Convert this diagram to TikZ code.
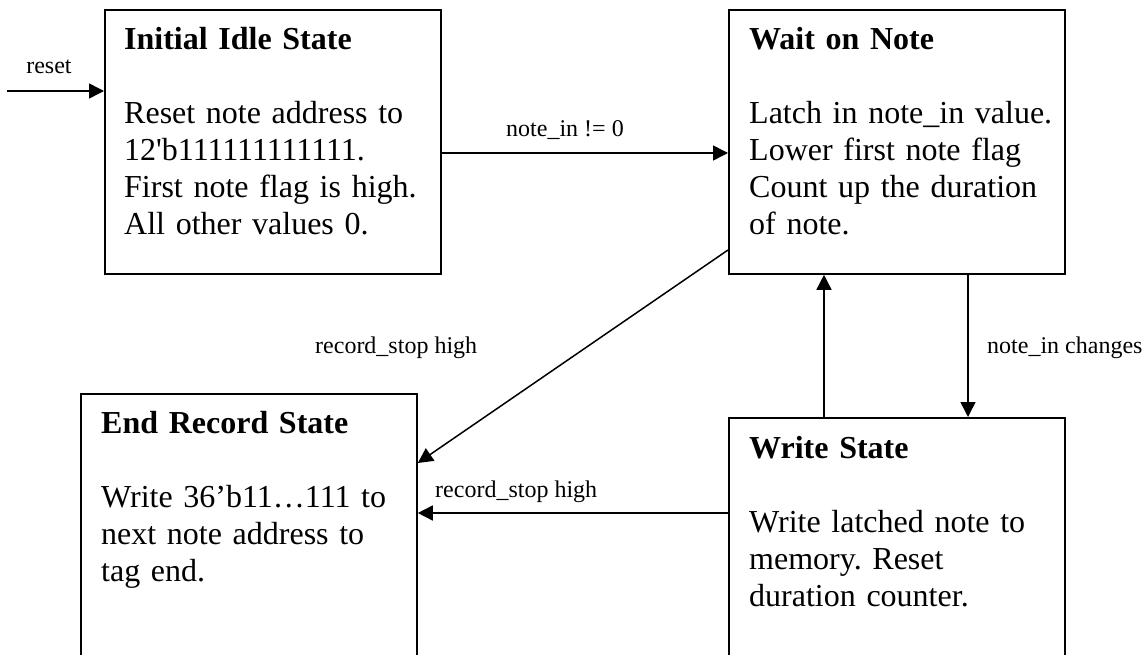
\documentclass[tikz,border=0pt]{standalone}
\usepackage{fontspec}
\setmainfont{Liberation Serif}[Ligatures=TeXOff]
\usetikzlibrary{arrows.meta,calc}

\newcommand\stbody{\fontsize{32}{37}\selectfont\frenchspacing}
\newcommand\stlabel{\fontsize{24}{28}\selectfont\frenchspacing}

\tikzset{
  statebox/.style={draw, line width=1.8pt, rectangle, inner sep=0pt,
    minimum width=336pt, anchor=north west},
  statetext/.style={font=\stbody, inner sep=0pt, align=left,
    text width=330pt, anchor=base west},
  flow/.style={line width=1.5pt, -{Triangle[length=15pt,width=15pt]}},
  cond/.style={font=\stlabel, inner sep=0pt}
}

\begin{document}
\begin{tikzpicture}[x=1pt, y=-1pt]
  \clip (0,0) rectangle (1146,655);
  \fill[white] (0,0) rectangle (1146,655);

  % state boxes (the lower two run past the bottom edge)
  \node[statebox, minimum height=264pt] (idle)   at (104,9)   {};
  \node[statebox, minimum height=264pt] (wait)   at (728,9)   {};
  \node[statebox, minimum height=320pt] (endrec) at (80,393)  {};
  \node[statebox, minimum height=300pt] (write)  at (728,417) {};

  % state descriptions
  \node[statetext] (idleTxt) at ($(idle.north west)+(20,41)$)
    {\textbf{Initial Idle State}\\[37pt]
     Reset note address to\\
     12'b111111111111.\\
     First note flag is high.\\
     All other values 0.};
  \node[statetext] (waitTxt) at ($(wait.north west)+(21,41)$)
    {\textbf{Wait on Note}\\[37pt]
     Latch in note\_in value.\\
     Lower first note flag\\
     Count up the duration\\
     of note.};
  \node[statetext] (endTxt) at ($(endrec.north west)+(21,40)$)
    {\textbf{End Record State}\\[37pt]
     Write 36’b11…111 to\\
     next note address to\\
     tag end.};
  \node[statetext] (writeTxt) at ($(write.north west)+(21,41)$)
    {\textbf{Write State}\\[37pt]
     Write latched note to\\
     memory. Reset\\
     duration counter.};

  % reset entry
  \coordinate (rst) at (7,91);
  \draw[flow] (rst) -- (rst -| idle.west);
  \node[cond] (rstLbl) at (49,67) {reset};

  % idle -> wait
  \draw[flow] ($(idle.north east)+(0,144)$) -- ($(wait.north west)+(0,144)$);
  \node[cond, anchor=base] (startLbl) at (565,137) {note\_in != 0};

  % wait -> end record
  \draw[flow] ($(wait.north west)+(0,241)$) -- ($(endrec.north east)+(0,70)$);
  \node[cond, anchor=base west] (stopLbl1) at (315,353) {record\_stop high};

  % wait <-> write
  \draw[flow] ($(wait.south west)+(240,0)$) -- ($(write.north west)+(240,0)$);
  \draw[flow] ($(write.north west)+(96,0)$) -- ($(wait.south west)+(96,0)$);
  \node[cond, anchor=base west] (chgLbl) at (987,353) {note\_in changes};

  % write -> end record
  \draw[flow] ($(write.north west)+(0,96)$) -- ($(endrec.north east)+(0,120)$);
  \node[cond, anchor=base west] (stopLbl2) at (435,497) {record\_stop high};
\end{tikzpicture}
\end{document}
